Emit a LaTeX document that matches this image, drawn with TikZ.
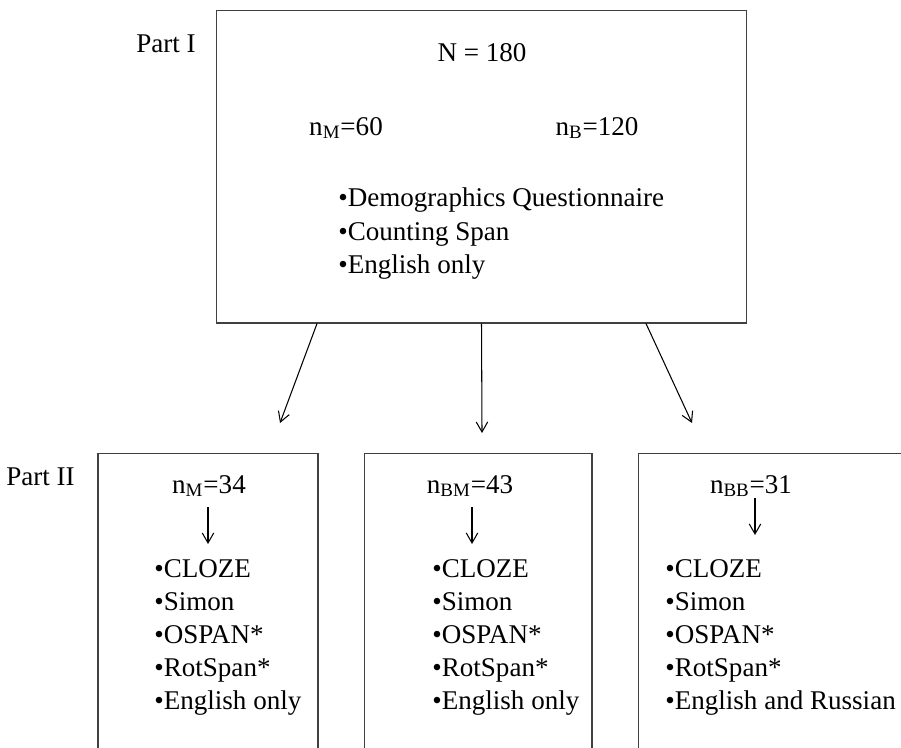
\documentclass[tikz,border=0pt]{standalone}
\usepackage{fontspec}
\setmainfont{Liberation Serif}
\usetikzlibrary{arrows.meta}

\begin{document}
\begin{tikzpicture}[x=0.02cm,y=-0.02cm,
  font=\fontsize{15.4}{19.2}\selectfont,
  panel/.style={draw=black!75,line width=0.6pt,inner sep=0pt},
  txt/.style={inner sep=0pt},
  flow/.style={-{Straight Barb[length=2mm,width=2.3mm]},line width=0.6pt}]
  \useasboundingbox (0,0) rectangle (901,747);
  \clip (0,0) rectangle (901,747);
  % Part I
  \node[panel,minimum width=10.62cm,minimum height=6.26cm] (partone) at (481.5,166.5) {};
  \node[txt,anchor=base west] (lblone) at (136,52) {Part I};
  \node[txt,anchor=base] (total) at (482,61) {N = 180};
  \node[txt,anchor=base] (mono) at (346,135) {n\textsubscript{M}=60};
  \node[txt,anchor=base] (bil) at (597,135) {n\textsubscript{B}=120};
  \foreach \t [count=\i] in {Demographics Questionnaire, Counting Span, English only}
    \node[txt,anchor=base west] (task\i) at (338,173+33.5*\i) {•\t};
  % Split into groups
  \coordinate (endm) at (280,423);
  \coordinate (endbm) at (482,433);
  \coordinate (endbb) at (692,423);
  \draw[flow] ([xshift=-3.29cm]partone.south) -- (endm);
  \draw[flow] (partone.south) -- (endbm);
  \draw[flow] ([xshift=3.29cm]partone.south) -- (endbb);
  % Part II
  \node[txt,anchor=base east] (lbltwo) at (75,485) {Part II};
  \node[panel,minimum width=4.4cm,minimum height=6.94cm] (grpm) at (208,626.5) {};
  \node[panel,minimum width=4.56cm,minimum height=6.94cm] (grpbm) at (478,626.5) {};
  \node[panel,minimum width=6.24cm,minimum height=6.94cm] (grpbb) at (794,626.5) {};
  \node[txt,anchor=base] (nm) at (209,493) {n\textsubscript{M}=34};
  \node[txt,anchor=base] (nbm) at (470,493) {n\textsubscript{BM}=43};
  \node[txt,anchor=base] (nbb) at (751,493) {n\textsubscript{BB}=31};
  \coordinate (tipm) at (208,544);
  \coordinate (tipbm) at (472,544);
  \coordinate (tipbb) at (755,535);
  \draw[flow,shorten <=0.2cm] (nm.south -| tipm) -- (tipm);
  \draw[flow,shorten <=0.2cm] (nbm.south -| tipbm) -- (tipbm);
  \draw[flow,shorten <=0.02cm] (nbb.south -| tipbb) -- (tipbb);
  % Task lists
  \foreach \x/\last [count=\j] in {154/English only, 432/English only, 665/English and Russian}
    \foreach \t [count=\i] in {CLOZE, Simon, OSPAN*, RotSpan*, \last}
      \node[txt,anchor=base west] (item\j-\i) at (\x,544+33*\i) {•\t};
\end{tikzpicture}
\end{document}
